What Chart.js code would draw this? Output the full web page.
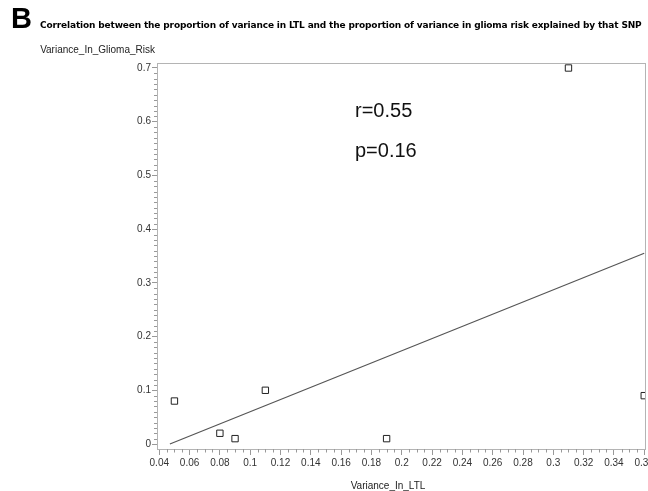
<!DOCTYPE html>
<html>
<head>
<meta charset="utf-8">
<script src="https://cdn.jsdelivr.net/npm/chart.js@4.4.1/dist/chart.umd.min.js"></script>
<style>
  html, body { margin: 0; padding: 0; width: 648px; height: 491px; overflow: hidden; background: #fff; }
  #wrap { position: absolute; left: 0; top: 0; width: 680px; height: 491px; }
  .txt { position: absolute; font-family: "Liberation Sans", Arial, sans-serif; white-space: nowrap; }
  #panel { left: 11px; top: 2px; font-size: 29px; font-weight: bold; color: #000; }
  #title { left: 40px; top: 20px; font-family: "DejaVu Sans", sans-serif; font-size: 9px; font-weight: bold; color: #000; letter-spacing: -0.15px; }
  #ytitle { right: 493px; top: 44px; font-size: 10px; color: #222; }
  #xtitle { left: 388px; top: 480px; font-size: 10px; color: #222; transform: translateX(-50%); }
  .stat { font-size: 20px; color: #111; left: 355px; }
</style>
</head>
<body>
<div id="wrap"><canvas id="chart" width="680" height="491"></canvas></div>
<div class="txt" id="panel">B</div>
<div class="txt" id="title">Correlation between the proportion of variance in LTL and the proportion of variance in glioma risk explained by that SNP</div>
<div class="txt" id="ytitle">Variance_In_Glioma_Risk</div>
<div class="txt" id="xtitle">Variance_In_LTL</div>
<div class="txt stat" style="top:99px">r=0.55</div>
<div class="txt stat" style="top:139px">p=0.16</div>
<script>
// Données
const varianceLTL = [0.05, 0.08, 0.09, 0.11, 0.19, 0.31, 0.36];
const varianceGlioma = [0.08, 0.02, 0.01, 0.10, 0.01, 0.70, 0.09];
// Droite de régression (extrémités)
const fitX = [0.047, 0.36];
const fitY = [0.0, 0.355];
// Graduations
const xTicks = [0.04, 0.06, 0.08, 0.1, 0.12, 0.14, 0.16, 0.18, 0.2, 0.22, 0.24, 0.26, 0.28, 0.3, 0.32, 0.34, 0.36];
const yTicks = [0, 0.1, 0.2, 0.3, 0.4, 0.5, 0.6, 0.7];

const frameColor = '#b4b4b4';

// Cadre complet + petites graduations
const framePlugin = {
    id: 'frame',
    afterDraw(chart) {
        const ctx = chart.ctx;
        const a = chart.chartArea;
        const xs = chart.scales.x, ys = chart.scales.y;
        ctx.save();
        ctx.strokeStyle = frameColor;
        ctx.lineWidth = 1;
        ctx.strokeRect(Math.round(a.left) + 0.5, Math.round(a.top) + 0.5,
                       Math.round(a.right - a.left), Math.round(a.bottom - a.top));
        ctx.strokeStyle = '#999';
        ctx.beginPath();
        for (let i = 0; i <= 64; i++) {
            const v = 0.04 + i * 0.005;
            if (i % 4 === 0) continue;
            const px = Math.round(xs.getPixelForValue(v)) + 0.5;
            ctx.moveTo(px, a.bottom);
            ctx.lineTo(px, a.bottom + 3.5);
        }
        for (let i = 0; i <= 70; i++) {
            if (i % 10 === 0) continue;
            const py = Math.round(ys.getPixelForValue(i * 0.01)) + 0.5;
            ctx.moveTo(a.left, py);
            ctx.lineTo(a.left - 3, py);
        }
        ctx.stroke();
        ctx.restore();
    }
};

new Chart(document.getElementById('chart'), {
    type: 'scatter',
    data: {
        datasets: [{
            type: 'line',
            data: fitX.map((x, i) => ({ x: x, y: fitY[i] })),
            borderColor: '#555',
            borderWidth: 1.2,
            pointRadius: 0,
            fill: false,
            order: 2
        }, {
            data: varianceLTL.map((x, i) => ({ x: x, y: varianceGlioma[i] })),
            pointStyle: 'rect',
            pointRadius: 4.5,
            borderColor: '#222',
            borderWidth: 1,
            backgroundColor: '#fff',
            order: 1
        }]
    },
    options: {
        responsive: false,
        animation: false,
        layout: { padding: { left: 0, top: 63, right: 35, bottom: 0 } },
        plugins: { legend: { display: false }, tooltip: { enabled: false } },
        scales: {
            x: {
                type: 'linear',
                min: 0.0385,
                max: 0.3605,
                afterBuildTicks: s => { s.ticks = xTicks.map(v => ({ value: v })); },
                afterFit: s => { s.height = 42; },
                grid: { drawOnChartArea: false, tickLength: 6, color: '#999' },
                border: { color: frameColor },
                ticks: {
                    padding: 2,
                    maxRotation: 0,
                    autoSkip: false,
                    color: '#333',
                    font: { family: 'Liberation Sans', size: 10 },
                    callback: v => String(Math.round(v * 100) / 100)
                }
            },
            y: {
                type: 'linear',
                min: -0.0093,
                max: 0.7093,
                afterBuildTicks: s => { s.ticks = yTicks.map(v => ({ value: v })); },
                afterFit: s => { s.width = 157; },
                grid: { drawOnChartArea: false, tickLength: 5, color: '#999' },
                border: { color: frameColor },
                ticks: {
                    padding: 1,
                    autoSkip: false,
                    color: '#333',
                    font: { family: 'Liberation Sans', size: 10 },
                    callback: v => String(Math.round(v * 10) / 10)
                }
            }
        }
    },
    plugins: [framePlugin]
});
</script>
</body>
</html>
